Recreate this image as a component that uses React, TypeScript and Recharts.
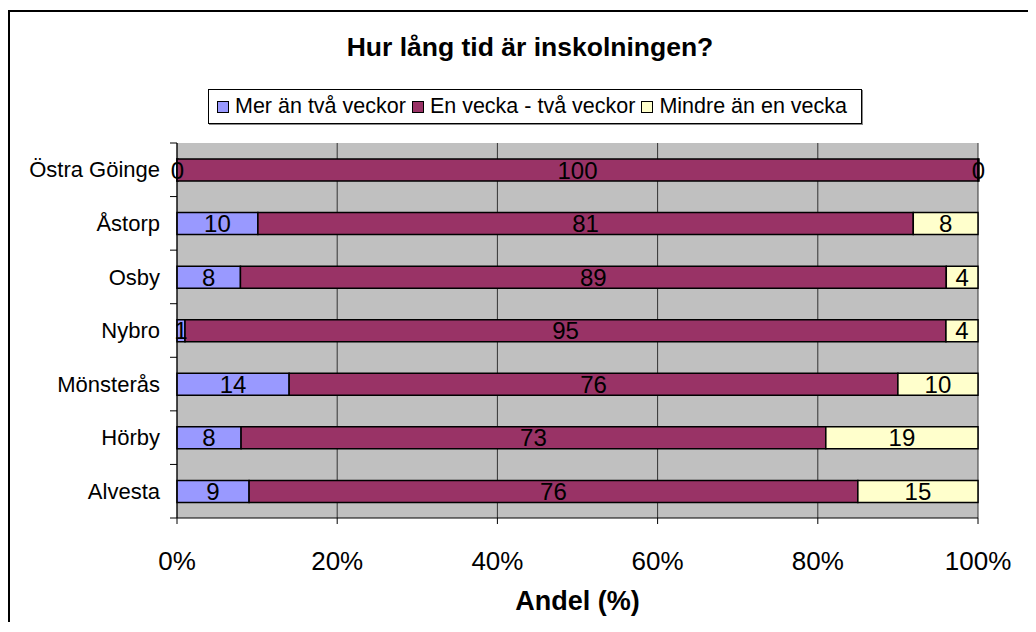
import React from "react";
import { BarChart, Bar, XAxis, YAxis, CartesianGrid, Legend, LabelList } from "recharts";

// kommuner, uppifrån och ner
const kommuner = ["Östra Göinge", "Åstorp", "Osby", "Nybro", "Mönsterås", "Hörby", "Alvesta"];
const merAnTvaVeckor = [0, 10, 8, 1, 14, 8, 9];
const enVeckaTvaVeckor = [100, 81, 89, 95, 76, 73, 76];
const mindreAnEnVecka = [0, 8, 4, 4, 10, 19, 15];
const andelTicks = [0, 0.2, 0.4, 0.6, 0.8, 1];

const serier = [
  { key: "mer", name: "Mer än två veckor", color: "#9999FF" },
  { key: "en", name: "En vecka - två veckor", color: "#993366" },
  { key: "mindre", name: "Mindre än en vecka", color: "#FFFFCC" },
];

const data = kommuner.map((name, i) => ({
  name,
  mer: merAnTvaVeckor[i],
  en: enVeckaTvaVeckor[i],
  mindre: mindreAnEnVecka[i],
}));

const FONT = '"Liberation Sans", Arial, sans-serif';

// Excel-style category ticks: label in the middle, tick marks between bands
const KommunTick = (props: any) => {
  const { x, y, payload, index, visibleTicksCount } = props;
  const half = payload && typeof payload.offset === "number" && payload.offset > 0 ? payload.offset : 26.8;
  return (
    <g>
      <text x={x} y={y} dy="0.35em" textAnchor="end" fontSize={22} fill="#000" fontFamily={FONT}>
        {payload.value}
      </text>
      <line x1={x + 10} x2={x + 17} y1={y - half} y2={y - half} stroke="#000" />
      {index === visibleTicksCount - 1 && (
        <line x1={x + 10} x2={x + 17} y1={y + half} y2={y + half} stroke="#000" />
      )}
    </g>
  );
};

const LegendBox = () => (
  <div
    style={{
      display: "inline-flex",
      alignItems: "center",
      border: "1px solid #000",
      boxShadow: "1px 1px 0 #888",
      background: "#fff",
      padding: "4px 8px",
      fontSize: 21.5,
      fontFamily: FONT,
      color: "#000",
      whiteSpace: "nowrap",
    }}
  >
    {serier.map((s) => (
      <span key={s.key} style={{ display: "inline-flex", alignItems: "center", marginRight: 6 }}>
        <span
          style={{
            display: "inline-block",
            width: 10,
            height: 10,
            background: s.color,
            border: "1px solid #000",
            marginRight: 6,
          }}
        />
        {s.name}
      </span>
    ))}
  </div>
);

export default function App() {
  return (
    <div
      style={{
        position: "relative",
        marginTop: 2,
        width: 1026,
        height: 610,
        borderTop: "2px solid #000",
        borderLeft: "2px solid #000",
        fontFamily: FONT,
        overflow: "hidden",
      }}
    >
      <div
        style={{
          position: "absolute",
          top: 20,
          left: 0,
          width: 1040,
          textAlign: "center",
          fontSize: 26.5,
          fontWeight: "bold",
          color: "#000",
          zIndex: 1,
        }}
      >
        Hur lång tid är inskolningen?
      </div>
      <BarChart
        width={1026}
        height={610}
        data={data}
        layout="vertical"
        stackOffset="expand"
        barSize={22}
        margin={{ top: 131, right: 58, left: 0, bottom: 14 }}
      >
        <CartesianGrid horizontal={false} stroke="#333" fill="#C0C0C0" fillOpacity={1} />
        <XAxis
          type="number"
          domain={[0, 1]}
          ticks={andelTicks}
          tickFormatter={(v: number) => `${Math.round(v * 100)}%`}
          tickSize={6}
          tickMargin={28}
          height={90}
          axisLine={{ stroke: "#000" }}
          tickLine={{ stroke: "#000" }}
          tick={{ fontSize: 26, fill: "#000", fontFamily: FONT }}
          label={{
            value: "Andel (%)",
            position: "insideBottom",
            offset: -2,
            fontSize: 27,
            fontWeight: "bold",
            fill: "#000",
            fontFamily: FONT,
          }}
        />
        <XAxis
          xAxisId="top"
          orientation="top"
          type="number"
          domain={[0, 1]}
          height={0}
          tick={false}
          tickLine={false}
          axisLine={{ stroke: "#808080" }}
        />
        <YAxis
          type="category"
          dataKey="name"
          width={167}
          interval={0}
          tickLine={false}
          tickSize={7}
          tickMargin={10}
          axisLine={{ stroke: "#000" }}
          tick={<KommunTick />}
        />
        <Legend
          layout="horizontal"
          verticalAlign="middle"
          align="center"
          content={<LegendBox />}
          wrapperStyle={{ top: 77, left: 198, width: "auto" }}
        />
        {serier.map((s) => (
          <Bar
            key={s.key}
            dataKey={s.key}
            name={s.name}
            stackId="a"
            fill={s.color}
            stroke="#000"
            strokeWidth={1.5}
            minPointSize={s.key === "en" ? 0 : 1}
            isAnimationActive={false}
          >
            <LabelList dataKey={s.key} position="center" fill="#000" fontSize={24} fontFamily={FONT} />
          </Bar>
        ))}
      </BarChart>
    </div>
  );
}
